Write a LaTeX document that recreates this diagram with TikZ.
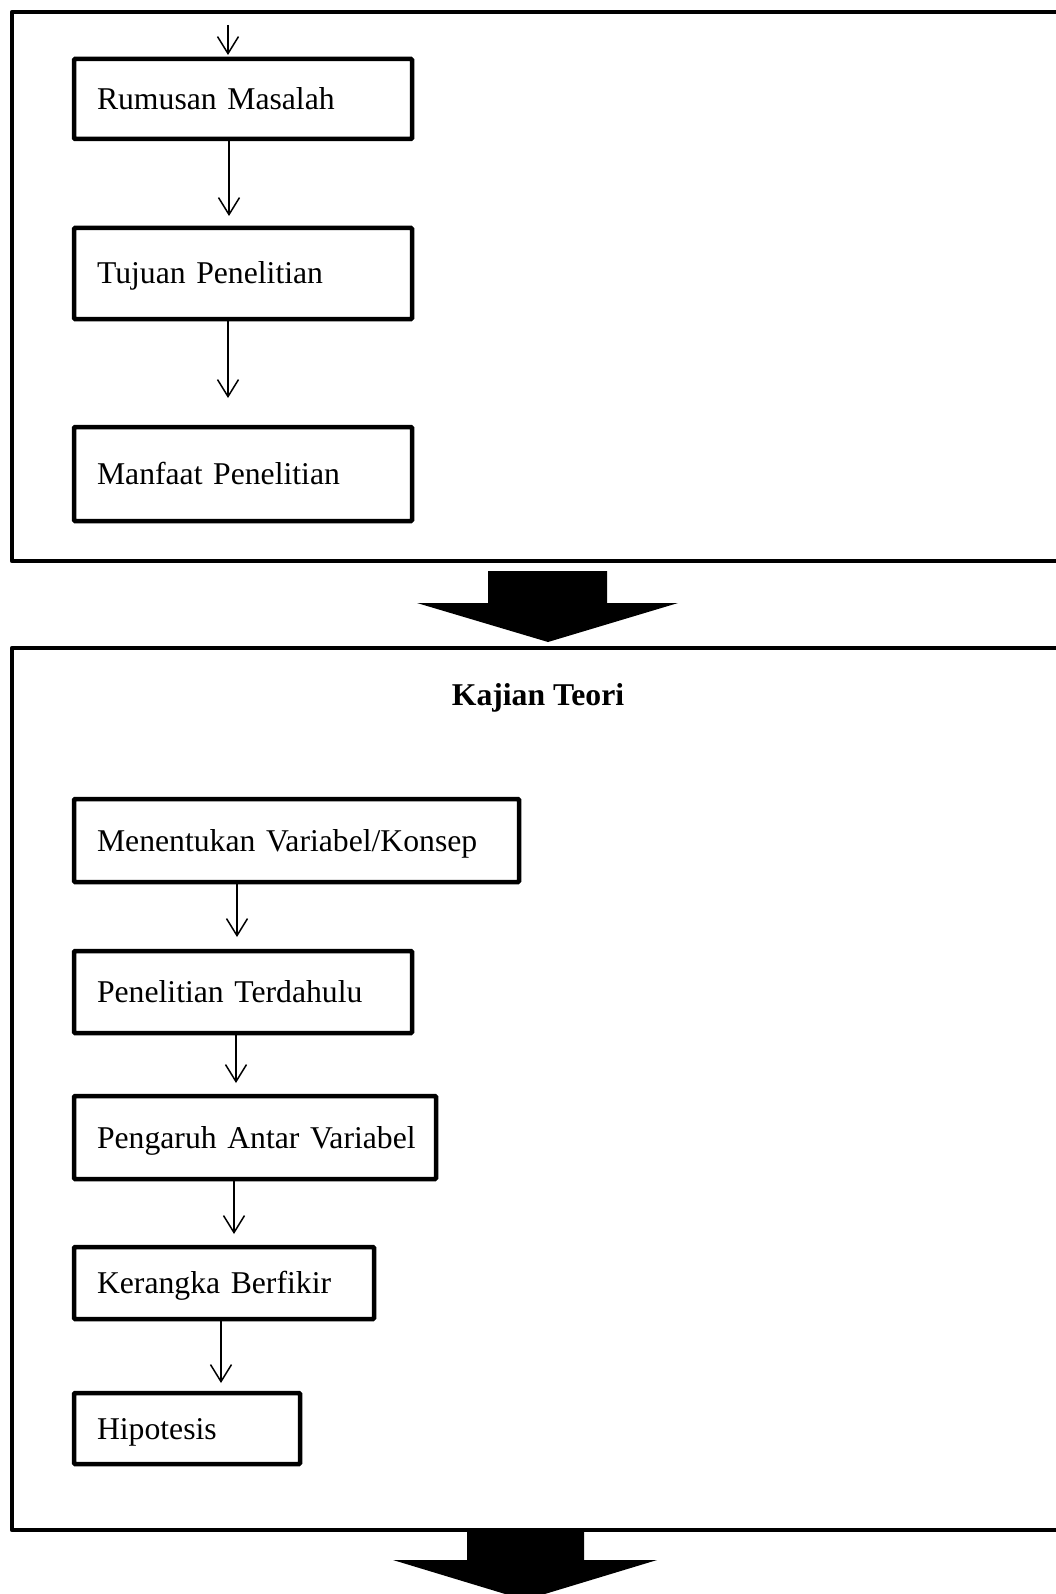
\documentclass[tikz,border=0pt]{standalone}
\usepackage{fontspec}
\setmainfont{Liberation Serif}
\usetikzlibrary{arrows.meta}
\newcommand\labfont{\fontsize{31.7}{38}\selectfont}
\begin{document}
\begin{tikzpicture}[x=1pt,y=-1pt,
  frame/.style={line width=4.5pt,line join=round},
  box/.style={draw,line width=4.5pt,rounded corners=1pt,anchor=north west,outer sep=0pt,
    inner xsep=23pt,inner ysep=0pt,align=left,font=\labfont,text height=21pt,text depth=0pt},
  link/.style={line width=1.5pt,-{Straight Barb[length=17pt,width=21pt]}},
  bigarrow/.style={fill=black}]
\useasboundingbox (0,0) rectangle (1055,1594);
% outer frames
\draw[frame] (1075,12) -- (12,12) -- (12,561) -- (1075,561);
\draw[frame] (1075,648) -- (12,648) -- (12,1530) -- (1075,1530);
% big arrows
\fill[bigarrow] (488,571) -- (607,571) -- (607,603) -- (678,603) -- (548,642) -- (417,603) -- (488,603) -- cycle;
\fill[bigarrow] (467,1530) -- (584,1530) -- (584,1560) -- (657,1560) -- (525,1600) -- (393,1560) -- (467,1560) -- cycle;
% first group
\node[box,text width=292pt,minimum height=80pt] (rm) at (74,59) {Rumusan Masalah};
\node[box,text width=292pt,minimum height=91pt] (tj) at (74,228) {Tujuan Penelitian};
\node[box,text width=292pt,minimum height=94pt] (mf) at (74,427) {Manfaat Penelitian};
% second group
\node[font=\labfont\bfseries,anchor=base] (kt) at (538,705) {Kajian Teori};
\node[box,text width=399pt,minimum height=83pt] (mv) at (74,799) {Menentukan Variabel/Konsep};
\node[box,text width=292pt,minimum height=82pt] (pt) at (74,951) {Penelitian Terdahulu};
\node[box,text width=316pt,minimum height=83pt] (pg) at (74,1096) {\mbox{Pengaruh Antar Variabel}};
\node[box,text width=254pt,minimum height=72pt] (kb) at (74,1247) {Kerangka Berfikir};
\node[box,text width=180pt,minimum height=71pt] (hp) at (74,1393) {Hipotesis};
% connectors
\coordinate (in) at (228,25);
\draw[link] (in) -- ([xshift=154pt,yshift=4pt]rm.north west);
\draw[link] ([xshift=155pt]rm.south west) -- ([xshift=155pt,yshift=12pt]tj.north west);
\draw[link] ([xshift=154pt]tj.south west) -- ([xshift=154pt,yshift=29pt]mf.north west);
\draw[link] ([xshift=163pt]mv.south west) -- ([xshift=163pt,yshift=14pt]pt.north west);
\draw[link] ([xshift=162pt]pt.south west) -- ([xshift=162pt,yshift=13pt]pg.north west);
\draw[link] ([xshift=160pt]pg.south west) -- ([xshift=160pt,yshift=13pt]kb.north west);
\draw[link] ([xshift=147pt]kb.south west) -- ([xshift=147pt,yshift=10pt]hp.north west);
\end{tikzpicture}
\end{document}
